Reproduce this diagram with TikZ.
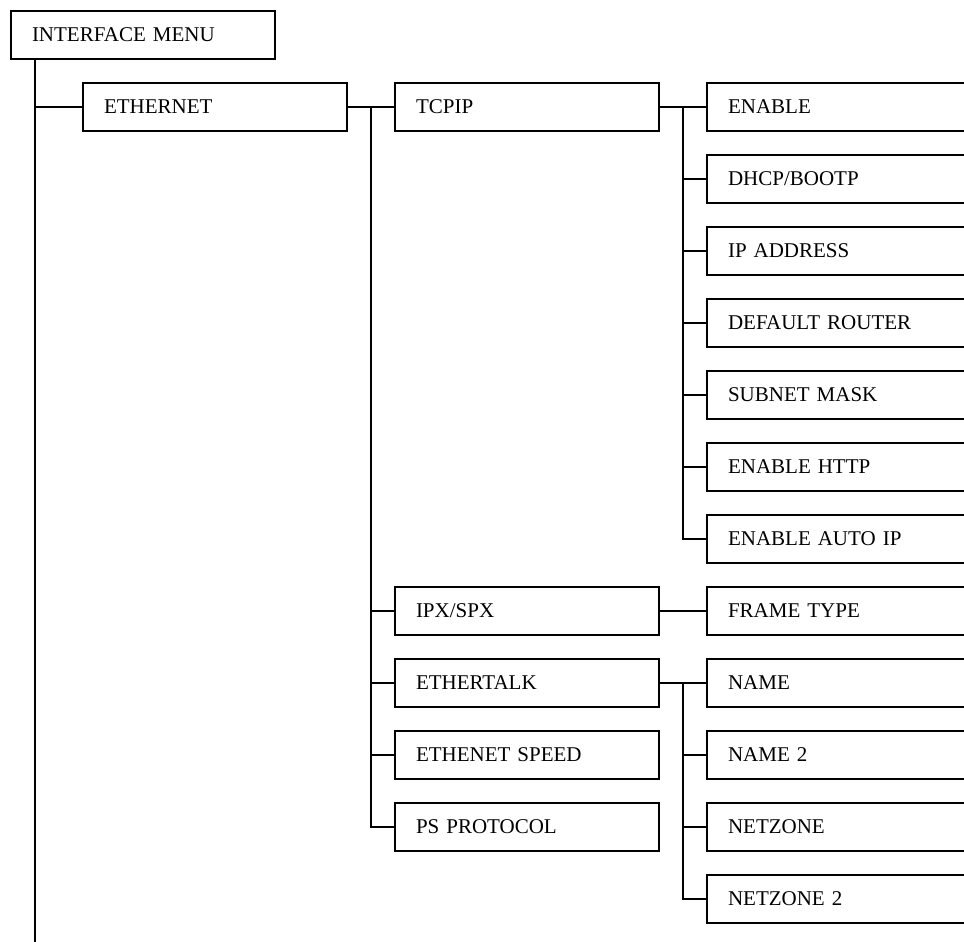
\documentclass[tikz,border=0pt]{standalone}
\usepackage{fontspec}
\setmainfont{Liberation Serif}
\usetikzlibrary{positioning}

\begin{document}
\begin{tikzpicture}[x=1pt,y=1pt,
		box/.style={draw,line width=1.8pt,text width=222pt,inner xsep=21pt,inner ysep=0pt,outer sep=0pt,minimum height=48pt,align=left,font=\fontsize{21}{25}\selectfont},
		link/.style={line width=1.8pt},
		node distance=24pt]
	\useasboundingbox (0,0) rectangle (964,-942);
	% menu levels
	\node[box] (menu) at (143,-35) {INTERFACE MENU};
	\node[box] (eth) at (215,-107) {ETHERNET};
	\node[box,right=48pt of eth] (tcpip) {TCPIP};
	\node[box,right=48pt of tcpip] (enable) {ENABLE};
	\node[box,below=of enable] (dhcp) {DHCP/BOOTP};
	\node[box,below=of dhcp] (ipaddr) {IP ADDRESS};
	\node[box,below=of ipaddr] (router) {DEFAULT ROUTER};
	\node[box,below=of router] (subnet) {SUBNET MASK};
	\node[box,below=of subnet] (http) {ENABLE HTTP};
	\node[box,below=of http] (autoip) {ENABLE AUTO IP};
	\node[box,below=of autoip] (frame) {FRAME TYPE};
	\node[box,left=48pt of frame] (ipx) {IPX/SPX};
	\node[box,below=of ipx] (etalk) {ETHERTALK};
	\node[box,below=of etalk] (speed) {ETHENET SPEED};
	\node[box,below=of speed] (ps) {PS PROTOCOL};
	\node[box,right=48pt of etalk] (name) {NAME};
	\node[box,below=of name] (name2) {NAME 2};
	\node[box,below=of name2] (netzone) {NETZONE};
	\node[box,below=of netzone] (netzone2) {NETZONE 2};
	% buses
	\coordinate (trunk) at ([xshift=24pt]menu.south west);
	\coordinate (trunkend) at (35,-942);
	\coordinate (ethbus) at ([xshift=24pt]eth.east);
	\coordinate (tcpbus) at ([xshift=24pt]tcpip.east);
	\coordinate (talkbus) at ([xshift=24pt]etalk.east);
	\draw[link] (trunk) -- (trunkend);
	\draw[link] (trunk |- eth) -- (eth.west);
	\draw[link] (eth.east) -- (tcpip.west);
	\draw[link] (ethbus) |- (ps.west);
	\foreach \n in {ipx,etalk,speed}
		\draw[link] (ethbus |- \n) -- (\n.west);
	\draw[link] (tcpip.east) -- (enable.west);
	\draw[link] (tcpbus) |- (autoip.west);
	\foreach \n in {dhcp,ipaddr,router,subnet,http}
		\draw[link] (tcpbus |- \n) -- (\n.west);
	\draw[link] (ipx.east) -- (frame.west);
	\draw[link] (etalk.east) -- (name.west);
	\draw[link] (talkbus) |- (netzone2.west);
	\foreach \n in {name2,netzone}
		\draw[link] (talkbus |- \n) -- (\n.west);
\end{tikzpicture}
\end{document}
